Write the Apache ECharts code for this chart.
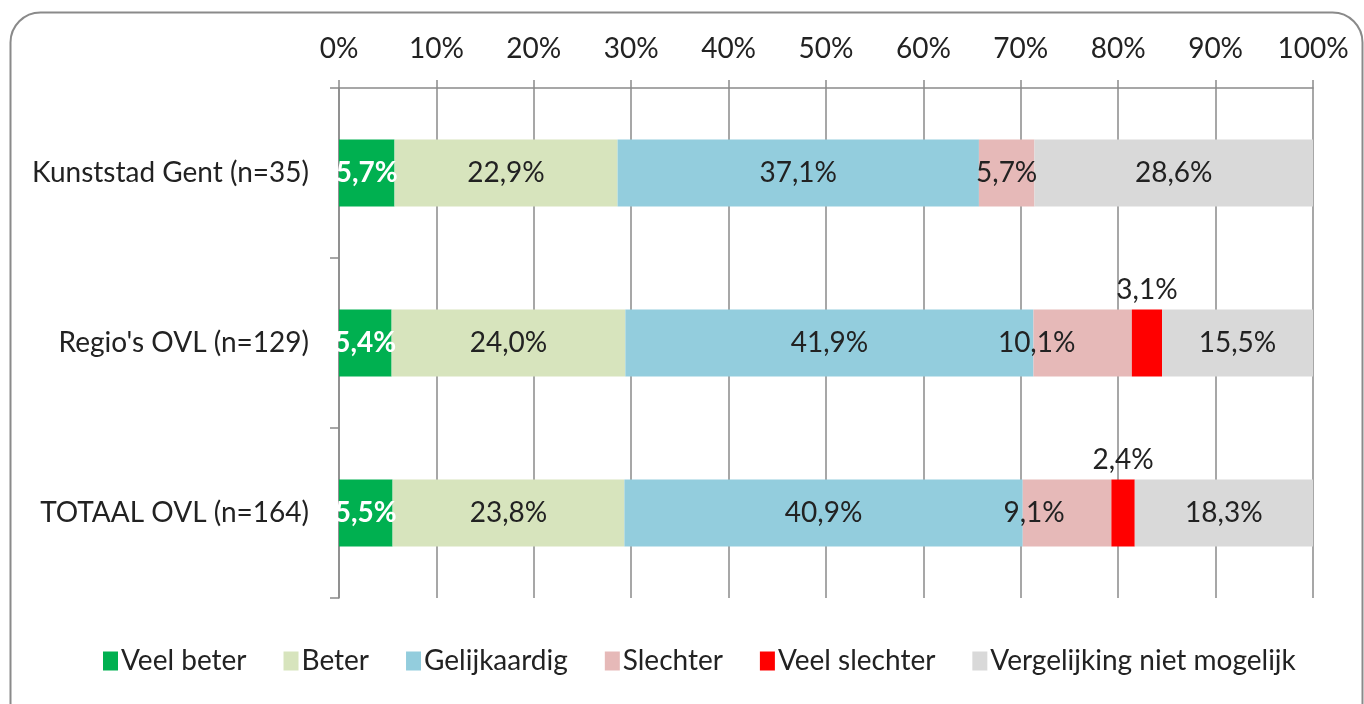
<!DOCTYPE html>
<html><head><meta charset="utf-8">
<script src="https://cdn.jsdelivr.net/npm/echarts@6/dist/echarts.min.js"></script>
<style>html,body{margin:0;padding:0;background:#fff}#c{width:1364px;height:704px}</style>
</head><body><div id="c"></div>
<script>
const categories = ['Kunststad Gent (n=35)', "Regio's OVL (n=129)", 'TOTAAL OVL (n=164)'];
const seriesNames = ['Veel beter', 'Beter', 'Gelijkaardig', 'Slechter', 'Veel slechter', 'Vergelijking niet mogelijk'];
const veelBeter = [5.7, 5.4, 5.5];
const beter = [22.9, 24.0, 23.8];
const gelijkaardig = [37.1, 41.9, 40.9];
const slechter = [5.7, 10.1, 9.1];
const veelSlechter = [0, 3.1, 2.4];
const nietMogelijk = [28.6, 15.5, 18.3];
const xTicks = [0, 10, 20, 30, 40, 50, 60, 70, 80, 90, 100];

const colors = ['#00B050', '#D7E4BD', '#93CDDD', '#E6B9B8', '#FF0000', '#D9D9D9'];
const FONT = 'Lato';
const FS = 28;
const values = [veelBeter, beter, gelijkaardig, slechter, veelSlechter, nietMogelijk];
const fmt = v => v.toFixed(1).replace('.', ',') + '%';
// manual label nudges as in the original (Slechter labels shifted left)
const nudge = {3: [0, -46, -33]};

const series = values.map((arr, si) => ({
  name: seriesNames[si],
  type: 'bar',
  stack: 'total',
  barWidth: 67,
  itemStyle: {color: colors[si]},
  data: arr.map((v, i) => {
    const d = {value: v};
    if (nudge[si]) d.label = {offset: [nudge[si][i], 0]};
    return d;
  }),
  label: {
    show: true,
    position: si === 4 ? 'top' : 'inside',
    distance: 6,
    fontFamily: FONT,
    fontSize: FS,
    color: si === 0 ? '#ffffff' : '#222222',
    fontWeight: si === 0 ? 'bold' : 'normal',
    formatter: p => p.value > 0 ? fmt(p.value) : ''
  }
}));

const chart = echarts.init(document.getElementById('c'), null, {renderer: 'canvas'});
chart.setOption({
  animation: false,
  backgroundColor: '#ffffff',
  color: colors,
  graphic: [{
    type: 'rect', left: 8, top: 10, z: -10,
    shape: {width: 1352, height: 720, r: 30},
    style: {fill: 'none', stroke: '#8a8a8a', lineWidth: 2}
  }],
  grid: {left: 339, right: 51, top: 88, bottom: 106, containLabel: false},
  xAxis: {
    type: 'value', position: 'top', min: 0, max: 100, interval: 10,
    axisLine: {show: true, lineStyle: {color: '#8a8a8a', width: 1.5}},
    axisTick: {show: true, length: 8, lineStyle: {color: '#8a8a8a', width: 1.5}},
    splitLine: {show: true, lineStyle: {color: '#8a8a8a', width: 1.5}},
    axisLabel: {formatter: '{value}%', fontFamily: FONT, fontSize: FS, color: '#222', margin: 25,
      customValues: xTicks}
  },
  yAxis: {
    type: 'category', inverse: true, data: categories,
    axisLine: {show: true, lineStyle: {color: '#8a8a8a', width: 1.5}},
    axisTick: {show: true, length: 9, lineStyle: {color: '#8a8a8a', width: 1.5}},
    axisLabel: {fontFamily: FONT, fontSize: FS, color: '#222', margin: 30}
  },
  legend: {
    bottom: 24, left: 98,
    icon: 'rect', itemWidth: 15, itemHeight: 19, itemGap: 37,
    textStyle: {fontFamily: FONT, fontSize: FS, color: '#222', padding: [0, 0, 0, -2]},
    data: seriesNames
  },
  series: series
});
</script></body></html>
